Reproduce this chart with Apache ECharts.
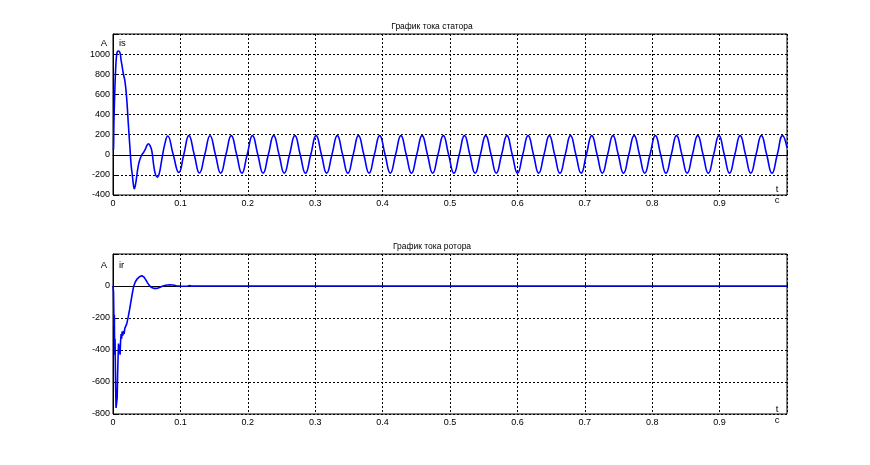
<!DOCTYPE html>
<html>
<head>
<meta charset="utf-8">
<script src="https://cdn.jsdelivr.net/npm/echarts@6/dist/echarts.min.js"></script>
<style>
html,body{margin:0;padding:0;background:#fff;}
#c{width:870px;height:465px;}
</style>
</head>
<body>
<div id="c"></div>
<script>
// ---- data ----
const titleTop = 'График тока статора';
const titleBottom = 'График тока ротора';
const xTicks = [0, 0.1, 0.2, 0.3, 0.4, 0.5, 0.6, 0.7, 0.8, 0.9];
const yTicksTop = [-400, -200, 0, 200, 400, 600, 800, 1000];
const yTicksBottom = [-800, -600, -400, -200, 0];

// stator current: start-up transient [t, A]
const statorTransient = [
  [0,45],[0.0008,60],[0.0013,300],[0.0020,480],[0.0030,700],[0.0040,860],[0.0052,980],
  [0.0066,1025],[0.0085,1030],[0.0105,1010],[0.0120,940],[0.0135,880],[0.0155,800],
  [0.0178,727],[0.0203,560],[0.0228,300],[0.0252,64],[0.0270,-110],[0.0287,-202],
  [0.0303,-300],[0.0316,-337],[0.0333,-300],[0.0351,-219],[0.0372,-120],[0.0395,-55],
  [0.0425,-5],[0.0455,25],[0.0480,55],[0.0505,95],[0.0525,110],[0.0545,95],
  [0.0574,45],[0.0605,-110],[0.0633,-200],[0.0658,-222],[0.0685,-190],[0.0722,-55],
  [0.0771,113]
];
// stator current: steady oscillation extrema and zero crossings [t, A]
const statorSteady = [
  [0.0811,186],[0.0892,5],[0.0977,-176],[0.1050,0],
  [0.1126,190],[0.1205,3],[0.1283,-181],[0.1362,2],
  [0.1440,189],[0.1519,3],[0.1598,-183],[0.1676,2],
  [0.1755,190],[0.1834,3],[0.1912,-183],[0.1991,2],
  [0.2069,190],[0.2148,3],[0.2227,-183],[0.2305,2],
  [0.2384,190],[0.2463,3],[0.2541,-183],[0.2620,2],
  [0.2699,190],[0.2777,3],[0.2856,-183],[0.2935,2],
  [0.3013,190],[0.3092,3],[0.3170,-183],[0.3249,2],
  [0.3328,190],[0.3406,3],[0.3485,-183],[0.3564,2],
  [0.3642,190],[0.3721,3],[0.3800,-183],[0.3878,2],
  [0.3957,190],[0.4036,3],[0.4114,-183],[0.4193,2],
  [0.4272,190],[0.4350,3],[0.4429,-183],[0.4507,2],
  [0.4586,190],[0.4665,3],[0.4743,-183],[0.4822,2],
  [0.4901,190],[0.4979,3],[0.5058,-183],[0.5137,2],
  [0.5215,190],[0.5294,3],[0.5373,-183],[0.5451,2],
  [0.5530,190],[0.5609,3],[0.5687,-183],[0.5766,2],
  [0.5845,190],[0.5923,3],[0.6002,-183],[0.6080,2],
  [0.6159,190],[0.6238,3],[0.6316,-183],[0.6395,2],
  [0.6474,190],[0.6552,3],[0.6631,-183],[0.6710,2],
  [0.6788,190],[0.6867,3],[0.6946,-183],[0.7024,2],
  [0.7103,190],[0.7182,3],[0.7260,-183],[0.7339,2],
  [0.7418,190],[0.7496,3],[0.7575,-183],[0.7653,2],
  [0.7732,190],[0.7811,3],[0.7889,-183],[0.7968,2],
  [0.8047,190],[0.8125,3],[0.8204,-183],[0.8283,2],
  [0.8361,190],[0.8440,3],[0.8519,-183],[0.8597,2],
  [0.8676,190],[0.8754,3],[0.8833,-183],[0.8912,2],
  [0.8991,190],[0.9069,3],[0.9148,-183],[0.9226,2],
  [0.9305,190],[0.9384,3],[0.9462,-183],[0.9541,2],
  [0.9620,190],[0.9698,3],[0.9777,-183],[0.9856,2],
  [0.9934,190],[1.0000,70]
];
// rotor current [t, A]
const rotorCurrent = [
  [0,0],[0.0008,-40],[0.0015,-250],[0.0020,-180],[0.0025,-430],[0.0030,-330],
  [0.0038,-600],[0.0045,-762],[0.0055,-765],[0.0062,-700],[0.0068,-560],[0.0075,-450],
  [0.0082,-360],[0.0090,-420],[0.0097,-370],[0.0105,-430],[0.0112,-350],[0.0120,-300],
  [0.0128,-330],[0.0135,-285],[0.0145,-310],[0.0155,-280],[0.0165,-300],[0.0175,-265],
  [0.0190,-255],[0.0205,-235],[0.0225,-195],[0.0245,-150],[0.0265,-100],[0.0285,-50],
  [0.0305,-5],[0.0330,25],[0.0360,45],[0.0395,58],[0.0425,64],[0.0455,58],[0.0485,40],
  [0.0515,18],[0.0545,0],[0.0575,-10],[0.0610,-15],[0.0650,-15],[0.0690,-10],
  [0.0730,-2],[0.0780,5],[0.0840,8],[0.0890,6],[0.0940,2],[0.1000,0],[0.1100,-2],
  [0.1140,3],[0.1170,-1],[0.1250,0],[1.0000,0]
];

// ---- chart ----
const FONT = 'Liberation Sans, Arial, sans-serif';
const G1 = {left:113, top:34, width:674, height:161};
const G2 = {left:113, top:254, width:674, height:160};

function xAxisFor(idx){
  return {
    type:'value', gridIndex:idx, min:0, max:1, interval:0.1,
    axisLine:{show:true, lineStyle:{color:'#000', width:1}},
    axisTick:{show:true, inside:true, length:4, lineStyle:{color:'#000'}},
    axisLabel:{
      color:'#000', fontFamily:FONT, fontSize:9, margin:4,
      formatter: v => {
        const hit = xTicks.find(t => Math.abs(t - v) < 1e-9);
        return hit === undefined ? '' : String(hit);
      }
    },
    splitLine:{show:true, lineStyle:{color:'#000', type:[2,2], width:1}}
  };
}
function yAxisFor(idx, min, max, ticks){
  return {
    type:'value', gridIndex:idx, min:min, max:max, interval:200,
    axisLine:{show:true, lineStyle:{color:'#000', width:1}},
    axisTick:{show:true, inside:true, length:4, lineStyle:{color:'#000'}},
    axisLabel:{
      color:'#000', fontFamily:FONT, fontSize:9, margin:3,
      formatter: v => ticks.includes(v) ? String(v) : ''
    },
    splitLine:{show:true, lineStyle:{color:'#000', type:[2,2], width:1}}
  };
}
function txt(x, y, s, align, size){
  return {type:'text', x:x, y:y, style:{text:s, fill:'#000', font:(size||10) + 'px ' + FONT, textAlign:align||'left', textVerticalAlign:'middle'}};
}

const chart = echarts.init(document.getElementById('c'), null, {renderer:'canvas'});
chart.setOption({
  backgroundColor:'#fff',
  animation:false,
  grid:[
    Object.assign({show:true, borderColor:'#000', borderWidth:1, backgroundColor:'#fff'}, G1),
    Object.assign({show:true, borderColor:'#000', borderWidth:1, backgroundColor:'#fff'}, G2)
  ],
  xAxis:[xAxisFor(0), xAxisFor(1)],
  yAxis:[yAxisFor(0, -400, 1200, yTicksTop), yAxisFor(1, -800, 200, yTicksBottom)],
  series:[
    {type:'line', xAxisIndex:0, yAxisIndex:0, data: statorTransient.concat(statorSteady),
     showSymbol:false, smooth:0.5, lineStyle:{color:'#0000ff', width:1.6}, clip:true},
    {type:'line', xAxisIndex:1, yAxisIndex:1, data: rotorCurrent,
     showSymbol:false, smooth:false, lineStyle:{color:'#0000ff', width:1.6}, clip:true}
  ],
  graphic:[
    txt(432, 27, titleTop, 'center', 8.5),
    txt(432, 247, titleBottom, 'center', 8.5),
    txt(107, 43, 'A', 'right', 9.5),
    txt(119, 43, 'is', 'left', 9.5),
    txt(107, 265, 'A', 'right', 9.5),
    txt(119, 265, 'ir', 'left', 9.5),
    txt(777, 189, 't', 'center', 9.5),
    txt(777, 200, 'c', 'center', 9.5),
    txt(777, 409, 't', 'center', 9.5),
    txt(777, 420, 'c', 'center', 9.5)
  ]
});
</script>
</body>
</html>
